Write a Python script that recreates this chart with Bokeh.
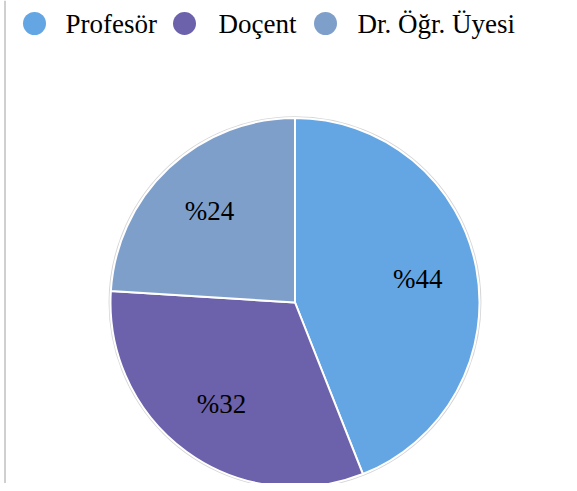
import numpy as np
from bokeh.plotting import figure
from bokeh.models import Range1d, ColumnDataSource
from bokeh.core.properties import value
from bokeh.embed import file_html
from bokeh.resources import INLINE

# ---- data ----
categories = ["Profesör", "Doçent", "Dr. Öğr. Üyesi"]
shares = [44, 32, 24]
labels = ["%44", "%32", "%24"]
colors = ["#63A6E3", "#6C61AB", "#7F9FCB"]

# ---- layout (page pixels, figure origin at top-left) ----
W, H = 561, 483


def Y(py):
    return H - py


cx, cy, R = 294.5, Y(302), 184.5
label_r = 125
FONT = value("Liberation Serif")

p = figure(width=W, height=H, x_range=Range1d(0, W), y_range=Range1d(0, H),
           output_backend="svg", toolbar_location=None, min_border=0)
p.axis.visible = False
p.grid.visible = False
p.outline_line_color = None
p.background_fill_color = "white"
p.border_fill_color = "white"

# left thin rule
p.segment(x0=[4.5], y0=[Y(0)], x1=[4.5], y1=[Y(485)], line_color="#a0a0a0", line_width=1)

vals = np.array(shares, dtype=float)
frac = vals / vals.sum()
cum = np.concatenate([[0], np.cumsum(frac)])
start = np.pi / 2 - 2 * np.pi * cum[:-1]
end = np.pi / 2 - 2 * np.pi * cum[1:]
mid = (start + end) / 2

src = ColumnDataSource(dict(start=start, end=end, color=colors, cat=categories,
                            lx=cx + label_r * np.cos(mid), ly=cy + label_r * np.sin(mid),
                            lab=labels))

# outer soft border
p.circle(x=[cx], y=[cy], radius=R + 1.2, fill_color=None, line_color="#d6d6d6", line_width=1.5)
p.wedge(x=cx, y=cy, radius=R, start_angle="start", end_angle="end", direction="clock",
        fill_color="color", line_color="white", line_width=2, source=src)

p.text(x="lx", y="ly", text="lab", source=src, text_align="center", text_baseline="middle",
       text_font=FONT, text_font_size="27px", text_color="black")

# legend
leg_cx = [34, 184, 325]
leg_tx = [65, 218, 357]
p.scatter(x=leg_cx, y=[Y(23)] * 3, size=23, marker="circle", fill_color=colors, line_color=None)
p.text(x=leg_tx, y=[Y(23)] * 3, text=categories, text_align="left", text_baseline="middle",
       text_font=FONT, text_font_size="27px", text_color="black")

open("out.html", "w").write(file_html(p, INLINE))
